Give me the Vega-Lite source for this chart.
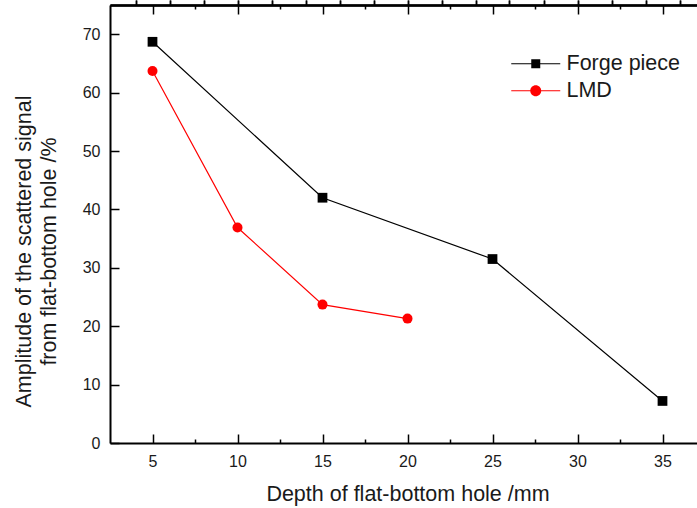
{
  "$schema": "https://vega.github.io/schema/vega-lite/v6.json",
  "width": 595,
  "height": 438,
  "autosize": {"type": "none"},
  "padding": {"left": 110, "top": 5, "right": 0, "bottom": 65},
  "background": "white",
  "config": {
    "view": {"stroke": null},
    "font": "Liberation Sans",
    "axis": {
      "domainColor": "black",
      "domainWidth": 2,
      "tickColor": "black",
      "tickWidth": 1.5,
      "grid": false,
      "labelFont": "Liberation Sans",
      "titleFont": "Liberation Sans",
      "labelFontSize": 16,
      "titleFontSize": 21.5,
      "labelColor": "#1a1a1a",
      "titleColor": "#1a1a1a",
      "titleFontWeight": "normal"
    },
    "legend": {
      "labelFont": "Liberation Sans",
      "labelFontSize": 21.5,
      "labelColor": "#1a1a1a",
      "padding": 0,
      "symbolSize": 100,
      "symbolStrokeWidth": 1.2,
      "labelOffset": 20
    }
  },
  "data": {
    "values": [
      {"series": "Forge piece", "depth": 5, "amp": 68.7},
      {"series": "Forge piece", "depth": 15, "amp": 42.0},
      {"series": "Forge piece", "depth": 25, "amp": 31.5},
      {"series": "Forge piece", "depth": 35, "amp": 7.2},
      {"series": "LMD", "depth": 5, "amp": 63.7},
      {"series": "LMD", "depth": 10, "amp": 36.9},
      {"series": "LMD", "depth": 15, "amp": 23.7},
      {"series": "LMD", "depth": 20, "amp": 21.3}
    ]
  },
  "layer": [
    {
      "mark": {"type": "line", "strokeWidth": 1.2},
      "encoding": {
        "x": {
          "field": "depth", "type": "quantitative",
          "scale": {"domain": [2.5, 37.5], "nice": false, "zero": false},
          "axis": {
            "orient": "bottom",
            "title": "Depth of flat-bottom hole /mm",
            "values": [5, 7.5, 10, 12.5, 15, 17.5, 20, 22.5, 25, 27.5, 30, 32.5, 35],
            "labelExpr": "datum.value % 5 === 0 ? datum.label : ''",
            "tickSize": {"condition": {"test": "datum.value % 5 === 0", "value": -9}, "value": -4},
            "labelPadding": 19,
            "titlePadding": 14
          }
        },
        "y": {
          "field": "amp", "type": "quantitative",
          "scale": {"domain": [0, 75], "nice": false},
          "axis": {
            "title": ["Amplitude of the scattered signal", "from flat-bottom hole /%"],
            "titleLineHeight": 25,
            "titleY": 246,
            "values": [0, 5, 10, 15, 20, 25, 30, 35, 40, 45, 50, 55, 60, 65, 70],
            "labelExpr": "datum.value % 10 === 0 ? datum.label : ''",
            "tickSize": {"condition": {"test": "datum.value % 10 === 0", "value": -9}, "value": -5},
            "labelPadding": 19,
            "titlePadding": 22
          }
        },
        "color": {
          "field": "series", "type": "nominal",
          "scale": {"domain": ["Forge piece", "LMD"], "range": ["#000000", "#ff0000"]},
          "legend": null
        }
      }
    },
    {
      "transform": [{"filter": "datum.series === 'Forge piece'"}],
      "mark": {"type": "point", "shape": "square", "filled": true, "opacity": 1, "size": 95, "color": "#000000"},
      "encoding": {
        "x": {"field": "depth", "type": "quantitative"},
        "y": {"field": "amp", "type": "quantitative"}
      }
    },
    {
      "transform": [{"filter": "datum.series === 'LMD'"}],
      "mark": {"type": "point", "shape": "circle", "filled": true, "opacity": 1, "size": 100, "color": "#ff0000"},
      "encoding": {
        "x": {"field": "depth", "type": "quantitative"},
        "y": {"field": "amp", "type": "quantitative"}
      }
    },
    {
      "transform": [{"filter": "datum.depth > 1000"}],
      "mark": {"type": "point", "filled": true, "opacity": 1, "color": "#000000"},
      "encoding": {
        "x": {
          "field": "depth", "type": "quantitative",
          "axis": {
            "orient": "top",
            "title": null,
            "labels": false,
            "values": [5, 7.5, 10, 12.5, 15, 17.5, 20, 22.5, 25, 27.5, 30, 32.5, 35],
            "tickSize": {"condition": {"test": "datum.value % 5 === 0", "value": -9}, "value": -4}
          }
        },
        "shape": {
          "field": "series", "type": "nominal",
          "scale": {
            "domain": ["Forge piece"],
            "range": ["M-4.9,-0.12L4.9,-0.12L4.9,0.12L-4.9,0.12Z M-0.9,-0.9L0.9,-0.9L0.9,0.9L-0.9,0.9Z"]
          },
          "legend": {
            "title": null,
            "orient": "none",
            "legendX": 415,
            "legendY": 48,
            "symbolFillColor": "#000000",
            "symbolStrokeColor": "#000000"
          }
        }
      }
    },
    {
      "transform": [{"filter": "datum.depth > 1000"}],
      "mark": {"type": "point", "filled": true, "opacity": 1, "color": "#ff0000"},
      "encoding": {
        "shape": {
          "field": "series", "type": "nominal",
          "scale": {
            "domain": ["LMD"],
            "range": ["M-4.9,-0.12L4.9,-0.12L4.9,0.12L-4.9,0.12Z M-1.1,0A1.1,1.1 0 1,1 1.1,0A1.1,1.1 0 1,1 -1.1,0Z"]
          },
          "legend": {
            "title": null,
            "orient": "none",
            "legendX": 415,
            "legendY": 75,
            "symbolFillColor": "#ff0000",
            "symbolStrokeColor": "#ff0000"
          }
        }
      }
    }
  ],
  "resolve": {"axis": {"x": "independent"}, "scale": {"shape": "independent"}}
}
